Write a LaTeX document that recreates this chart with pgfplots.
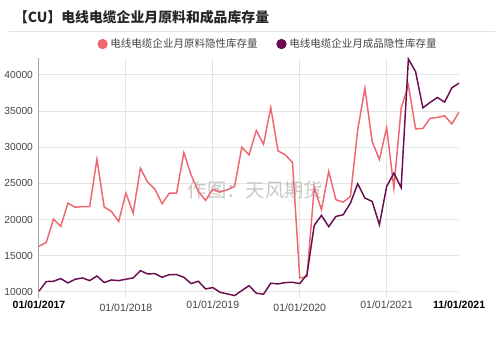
\documentclass[border=0pt]{standalone}
\usepackage{fontspec}
\setmainfont{Liberation Sans}
\newfontfamily\cjk{Noto Sans CJK SC}
\usepackage{pgfplots}
\pgfplotsset{compat=1.18}
\definecolor{redl}{RGB}{238,102,112}
\definecolor{darkl}{RGB}{106,12,80}
\definecolor{gridc}{RGB}{228,228,228}
\definecolor{axc}{RGB}{165,165,165}
\definecolor{txt}{RGB}{68,68,68}
\begin{document}
\begin{tikzpicture}
\path (0pt,0pt) rectangle (375pt,-256.5pt);
\node[anchor=west, inner sep=0pt, font=\cjk\bfseries\fontsize{10.4}{12}\selectfont, text=black!85] at (10pt,-12.75pt) {【CU】电线电缆企业月原料和成品库存量};
\draw[gridc, line width=0.75pt] (6pt,-24pt) -- (371.25pt,-24pt);
\begin{axis}[
  at={(28.875pt,-223.5pt)}, anchor=south west,
  width=315.4pt, height=180pt, scale only axis,
  xmin=0, xmax=58, ymin=9200, ymax=42350,
  axis x line*=bottom, axis y line*=left,
  x axis line style={draw=none},
  y axis line style={draw=axc, line width=0.75pt},
  major tick length=0pt,
  scaled y ticks=false,
  ytick={10000,15000,20000,25000,30000,35000,40000},
  ymajorgrids, major grid style={draw=gridc, line width=0.75pt},
  /pgf/number format/.cd, 1000 sep={}, assume math mode=true, /pgfplots/.cd,
  yticklabel style={font=\fontsize{7.7}{9}\selectfont, text=txt, xshift=-1pt},
  xtick={0,58},
  xticklabels={\textbf{01/01/2017},\textbf{11/01/2021}},
  extra x ticks={12,24,36,48},
  extra x tick labels={{\mbox{}\\01/01/2018},01/01/2019,{\mbox{}\\01/01/2020},01/01/2021},
  extra x tick style={grid=major, xticklabel style={text=txt}},
  xticklabel style={font=\fontsize{7.9}{8.25}\selectfont, align=center, anchor=north, inner sep=2pt, text=black},
  legend style={at={(0.546,1.058)}, anchor=center, draw=none, fill=none,
    font=\cjk\fontsize{7.9}{9}\selectfont, text=txt, legend columns=2,
    /tikz/every even column/.append style={column sep=12pt}},
  legend image code/.code={\fill[#1] (0pt,0pt) circle (3.3pt);},
]
\node[font=\cjk\fontsize{14.5}{16}\selectfont, text=black!22] at (axis cs:29.9,24100) {作图：天风期货};
\addplot[color=redl, line width=1.1pt] coordinates {
(0,16300) (1,16850) (2,20070) (3,19060) (4,22280) (5,21700) (6,21800) (7,21800)
(8,28350) (9,21730) (10,21130) (11,19750) (12,23660) (13,20900) (14,27100) (15,25180)
(16,24210) (17,22190) (18,23660) (19,23660) (20,29270) (21,26190) (22,23890) (23,22650)
(24,24210) (25,23800) (26,24120) (27,24580) (28,30010) (29,28950) (30,32310) (31,30420)
(32,35480) (33,29500) (34,28950) (35,27890) (36,11930) (37,12100) (38,24440) (39,21360)
(40,26650) (41,22740) (42,22420) (43,23200) (44,32400) (45,38150) (46,30790) (47,28300)
(48,32720) (49,24350) (50,35400) (51,38600) (52,32540) (53,32600) (54,34000) (55,34120)
(56,34350) (57,33220) (58,34860)
};
\addlegendentry{电线电缆企业月原料隐性库存量}
\addplot[color=darkl, line width=1.1pt] coordinates {
(0,10100) (1,11430) (2,11470) (3,11840) (4,11240) (5,11750) (6,11930) (7,11560)
(8,12200) (9,11290) (10,11650) (11,11560) (12,11750) (13,11930) (14,12940) (15,12480)
(16,12530) (17,12020) (18,12390) (19,12390) (20,12020) (21,11150) (22,11470) (23,10410)
(24,10600) (25,9950) (26,9720) (27,9490) (28,10180) (29,10870) (30,9820) (31,9680)
(32,11200) (33,11100) (34,11290) (35,11330) (36,11150) (37,12400) (38,19200) (39,20580)
(40,19020) (41,20440) (42,20670) (43,22280) (44,24950) (45,22970) (46,22510) (47,19290)
(48,24580) (49,26420) (50,24440) (51,42200) (52,40450) (53,35450) (54,36200) (55,36880)
(56,36240) (57,38220) (58,38870)
};
\addlegendentry{电线电缆企业月成品隐性库存量}
\end{axis}
\end{tikzpicture}
\end{document}
